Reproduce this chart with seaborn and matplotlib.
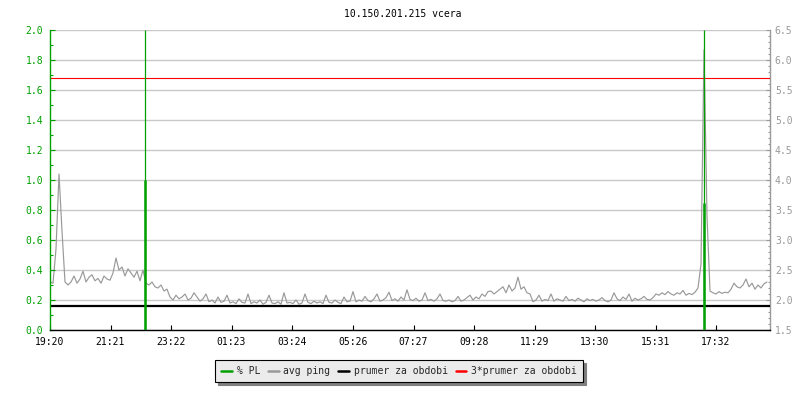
import numpy as np
import pandas as pd
import matplotlib
matplotlib.use("Agg")
import matplotlib.pyplot as plt
import seaborn as sns
from matplotlib.ticker import MultipleLocator, FixedLocator
from matplotlib.lines import Line2D

# ---------------- data ----------------
title = "10.150.201.215 vcera"
start_label = "19:20"
step_min = 6          # sample spacing of avg ping (minutes)
span_min = 1440       # one day

avg_ping = [
    2.30, 2.28, 2.85, 4.10, 3.15, 2.30, 2.25, 2.30, 2.40, 2.28,
    2.35, 2.48, 2.30, 2.38, 2.42, 2.32, 2.36, 2.28, 2.40, 2.35,
    2.33, 2.45, 2.70, 2.50, 2.55, 2.40, 2.52, 2.45, 2.38, 2.48,
    2.32, 2.50, 2.28, 2.25, 2.30, 2.22, 2.20, 2.25, 2.15, 2.18,
    2.05, 2.00, 2.08, 2.02, 2.05, 2.10, 2.00, 2.03, 2.12, 2.05,
    1.98, 2.02, 2.10, 1.97, 2.00, 1.95, 2.05, 1.96, 1.98, 2.08,
    1.95, 1.97, 1.94, 2.02, 1.96, 1.95, 2.10, 1.94, 1.97, 1.95,
    2.00, 1.93, 1.96, 2.08, 1.95, 1.94, 1.97, 1.93, 2.12, 1.95,
    1.96, 1.94, 2.00, 1.93, 1.95, 2.10, 1.96, 1.94, 1.98, 1.95,
    1.97, 1.94, 2.08, 1.96, 1.95, 2.00, 1.96, 1.94, 2.05, 1.97,
    1.98, 2.14, 1.97, 2.00, 1.98, 2.06, 1.99, 1.97, 2.02, 2.10,
    1.98, 2.00, 2.04, 2.13, 1.99, 2.02, 1.98, 2.05, 2.00, 2.17,
    2.01, 1.99, 2.03, 1.98, 2.00, 2.12, 1.99, 2.01, 1.98, 2.02,
    2.10, 1.99, 1.98, 2.00, 1.97, 1.99, 2.06, 1.98, 2.00, 2.04,
    2.08, 2.00, 2.05, 2.02, 2.10, 2.06, 2.14, 2.15, 2.10, 2.14,
    2.18, 2.22, 2.12, 2.25, 2.15, 2.20, 2.38, 2.18, 2.22, 2.12,
    2.10, 1.97, 2.00, 2.08, 1.98, 2.01, 1.99, 2.10, 1.98, 2.02,
    2.00, 1.98, 2.06, 1.99, 2.01, 1.98, 2.03, 2.00, 1.97, 2.02,
    1.99, 2.01, 1.98, 2.00, 2.04, 1.99, 1.97, 2.00, 2.12, 2.02,
    1.99, 2.05, 2.01, 2.10, 1.98, 2.03, 2.00, 2.02, 2.06, 2.01,
    2.00, 2.04, 2.10, 2.08, 2.12, 2.09, 2.14, 2.10, 2.08, 2.12,
    2.10, 2.16, 2.08, 2.11, 2.09, 2.13, 2.20, 2.60, 6.17, 3.40,
    2.15, 2.12, 2.10, 2.14, 2.11, 2.13, 2.12, 2.18, 2.28, 2.22,
    2.20, 2.25, 2.35, 2.22, 2.28, 2.18, 2.25, 2.20, 2.27, 2.30,
]

pl_minutes = [190, 1307]      # minutes after start
pl_values = [1.0, 0.85]       # % PL
pl_max = [2.0, 2.0]           # short max burst (reaches top of scale)

prumer = 1.9                  # mean over period
prumer3 = 5.7                 # 3 * mean

tick_labels = ["19:20", "21:21", "23:22", "01:23", "03:24", "05:26",
               "07:27", "09:28", "11:29", "13:30", "15:31", "17:32"]

legend_labels = ["% PL", "avg ping", "prumer za obdobi", "3*prumer za obdobi"]

# ---------------- styling ----------------
GREEN = "#00a000"
GRAY = "#999999"
GRID = "#c8c8c8"
RED = "#ff0000"

sns.set_style("white")
plt.rcParams['font.family'] = ['DejaVu Sans Mono', 'DejaVu Sans']
FS = 7

def to_min(lbl):
    h, m = map(int, lbl.split(":"))
    sh, sm = map(int, start_label.split(":"))
    return ((h * 60 + m) - (sh * 60 + sm)) % 1440

minutes = np.arange(len(avg_ping)) * step_min
df = pd.DataFrame({"t": minutes, "avg ping": avg_ping})

fig = plt.figure(figsize=(8, 4), dpi=100)
fig.patch.set_facecolor("white")
ax = fig.add_axes([50 / 800, 70 / 400, 720 / 800, 300 / 400])
ax2 = ax.twinx()
ax.set_zorder(ax2.get_zorder() + 1)
ax.patch.set_visible(False)
ax2.patch.set_facecolor("white")

# right axis (ping) : grid, gray line, mean lines
ax2.set_ylim(1.5, 6.5)
ax2.yaxis.set_major_locator(MultipleLocator(0.5))
ax2.yaxis.set_minor_locator(MultipleLocator(0.1))
ax2.grid(True, axis="y", which="major", color=GRID, lw=1.0)
ax2.set_axisbelow(True)
sns.lineplot(data=df, x="t", y="avg ping", ax=ax2, color=GRAY, lw=0.85,
             legend=False, zorder=2)
ax2.axhline(prumer, color="black", lw=1.6, zorder=3)
ax2.axhline(prumer3, color=RED, lw=0.8, zorder=3)
ax2.set_xlabel("")
ax2.set_ylabel("")
ax2.tick_params(axis="y", which="major", direction="in", length=3, width=0.8,
                color=GRAY, labelcolor=GRAY, labelsize=FS, pad=3.5)
ax2.tick_params(axis="y", which="minor", direction="in", length=1.8, width=0.8,
                color=GRAY)
ax2.yaxis.set_major_formatter(matplotlib.ticker.FormatStrFormatter("%.1f"))

# left axis (% PL)
ax.set_ylim(0, 2.0)
ax.set_xlim(0, span_min)
ax.vlines(pl_minutes, 0, pl_max, color=GREEN, lw=0.9, zorder=4)
ax.vlines(pl_minutes, 0, pl_values, color=GREEN, lw=1.8, zorder=5)
ax.yaxis.set_major_locator(MultipleLocator(0.2))
ax.yaxis.set_minor_locator(MultipleLocator(0.1))
ax.yaxis.set_major_formatter(matplotlib.ticker.FormatStrFormatter("%.1f"))
ax.tick_params(axis="y", which="major", direction="in", length=3.6, width=0.8,
               color=GREEN, labelcolor=GREEN, labelsize=FS, pad=5,
               left=True, right=False)
ax.tick_params(axis="y", which="minor", direction="in", length=2.2, width=0.8,
               color=GREEN, left=True, right=False)
ax.xaxis.set_major_locator(FixedLocator([to_min(l) for l in tick_labels]))
ax.set_xticklabels(tick_labels)
ax.tick_params(axis="x", which="major", direction="in", length=3.6, width=0.8,
               color="black", labelcolor="black", labelsize=FS, pad=5,
               bottom=True)
ax2.tick_params(axis="x", bottom=False, labelbottom=False)

for s in ["top", "right"]:
    ax.spines[s].set_visible(False)
ax.spines["left"].set_color(GREEN)
ax.spines["left"].set_linewidth(1.0)
ax.spines["bottom"].set_color("black")
ax.spines["bottom"].set_linewidth(1.0)
for s in ["top", "left", "bottom"]:
    ax2.spines[s].set_visible(False)
ax2.spines["right"].set_color(GRAY)
ax2.spines["right"].set_linewidth(1.0)

fig.text(403 / 800, 1 - 14 / 400, title, ha="center", va="center",
         fontsize=FS, color="black")

handles = [Line2D([], [], color=c, lw=1.8) for c in [GREEN, GRAY, "black", RED]]
leg = fig.legend(handles, legend_labels, loc="center",
                 bbox_to_anchor=(399 / 800, 1 - 371 / 400), ncol=4,
                 frameon=True, fancybox=False,
                 shadow={"facecolor": "#808080", "edgecolor": "#808080", "alpha": 1},
                 fontsize=FS, handlelength=1.1, handletextpad=0.5,
                 columnspacing=0.8, borderpad=0.6, borderaxespad=0)
leg.get_frame().set_edgecolor("black")
leg.get_frame().set_linewidth(0.8)
leg.get_frame().set_facecolor("#ebebeb")

fig.savefig("out.png", dpi=100, facecolor="white")
